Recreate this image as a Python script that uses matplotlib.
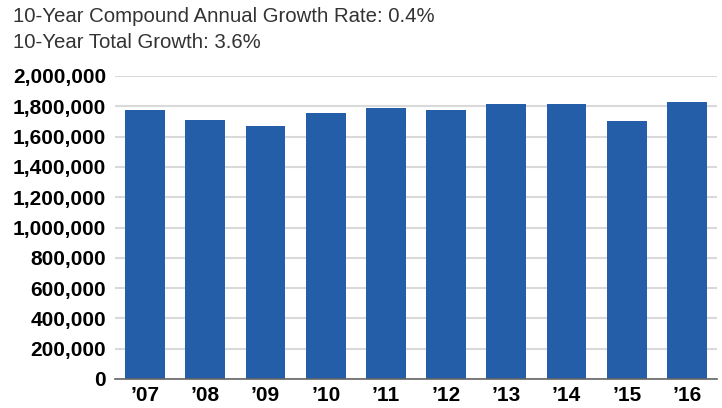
import matplotlib.pyplot as plt
from matplotlib.ticker import FuncFormatter

years = ["\u201907", "\u201908", "\u201909", "\u201910", "\u201911",
         "\u201912", "\u201913", "\u201914", "\u201915", "\u201916"]
values = [1775600, 1709600, 1670000, 1755800, 1788800,
          1775600, 1815200, 1815200, 1703000, 1828400]
yticks = [0, 200000, 400000, 600000, 800000, 1000000,
          1200000, 1400000, 1600000, 1800000, 2000000]
title_lines = ["10-Year Compound Annual Growth Rate: 0.4%",
               "10-Year Total Growth: 3.6%"]

plt.rcParams['font.family'] = ['Liberation Sans', 'DejaVu Sans']

fig = plt.figure(figsize=(7.22, 4.08), dpi=100)
ax = fig.add_axes([115 / 722, 29 / 408, 602 / 722, 303 / 408])

x = range(len(values))
ax.bar(x, values, width=0.66, color='#245EA9', zorder=3)

ax.set_xlim(-0.5, len(values) - 0.5)
ax.set_ylim(0, 2000000)
ax.set_yticks(yticks)
ax.yaxis.set_major_formatter(FuncFormatter(lambda v, p: f"{int(v):,}"))
ax.set_xticks(list(x))
ax.set_xticklabels(years)

ax.grid(axis='y', color='#d9d9d9', linewidth=1.5, zorder=0)
for s in ['top', 'right', 'left']:
    ax.spines[s].set_visible(False)
ax.spines['bottom'].set_color('#666666')
ax.spines['bottom'].set_linewidth(1.2)
ax.spines['bottom'].set_zorder(4)

ax.tick_params(axis='both', length=0, colors='black')
ax.tick_params(axis='y', pad=6.5, labelsize=15)
ax.tick_params(axis='x', pad=5, labelsize=15)
for lbl in ax.get_yticklabels() + ax.get_xticklabels():
    lbl.set_fontweight('bold')

fig.text(13 / 722, 1 - 22 / 408, title_lines[0], fontsize=14.7,
         color='#333333', va='baseline', ha='left')
fig.text(13 / 722, 1 - 48 / 408, title_lines[1], fontsize=14.7,
         color='#333333', va='baseline', ha='left')

fig.savefig('out.png', dpi=100)
